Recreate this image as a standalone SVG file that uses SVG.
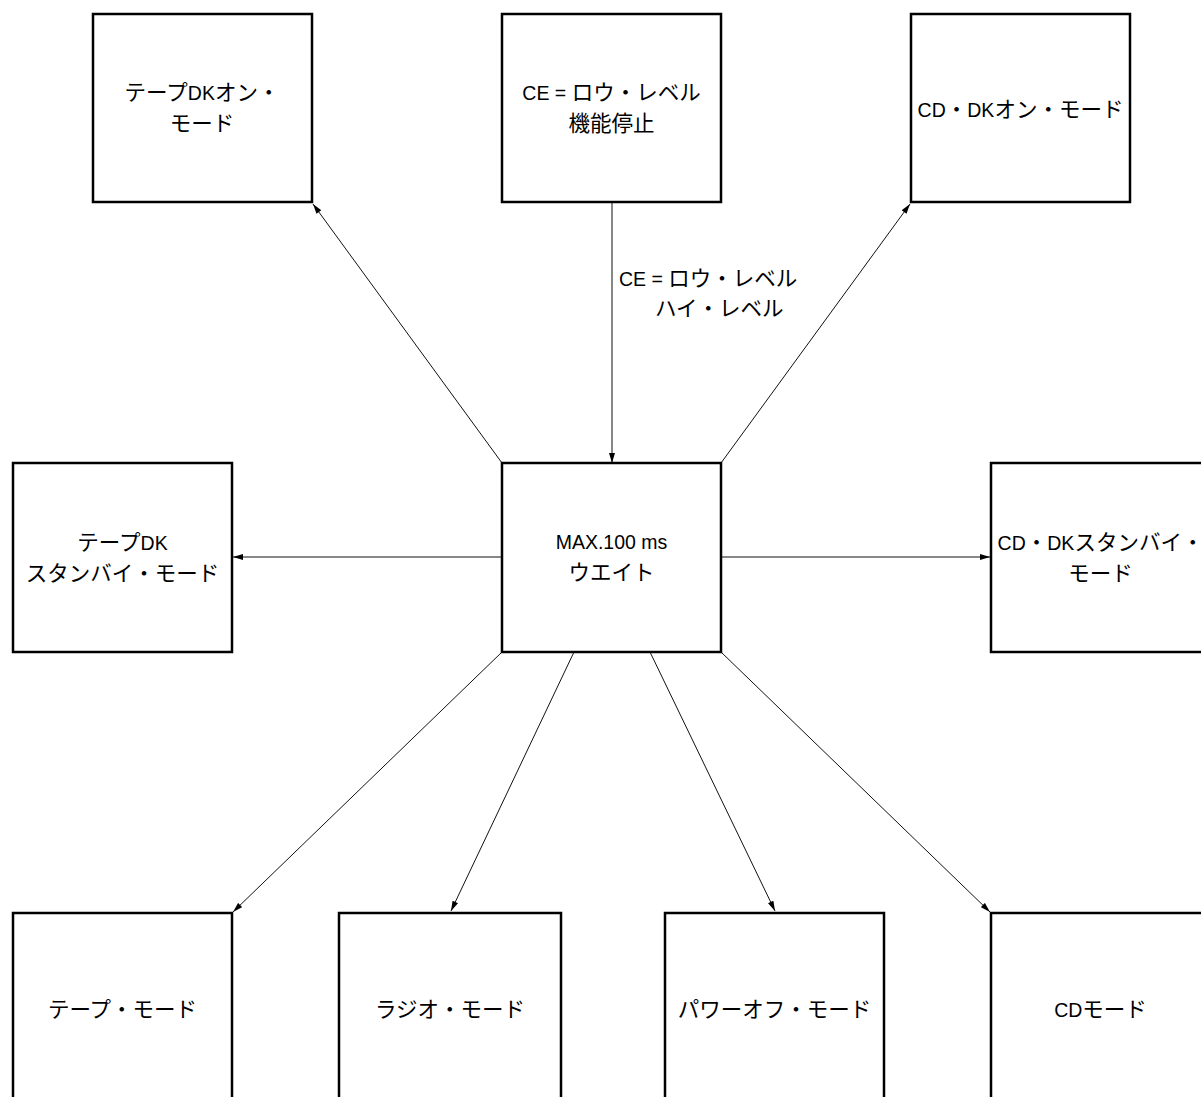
<svg xmlns="http://www.w3.org/2000/svg" width="1201" height="1097" viewBox="0 0 1201 1097">
<style>
.box{fill:#fff;stroke:#000;stroke-width:2.5}
.t{font-family:"Liberation Sans","Noto Sans CJK JP",sans-serif;font-size:21.5px;fill:#000;text-anchor:middle}
.l{font-size:19.5px}
.s{text-anchor:start}
.c{stroke:#111;stroke-width:1;fill:none;marker-end:url(#ah)}
</style>
<defs>
<marker id="ah" viewBox="0 0 10 6" refX="10" refY="3" markerWidth="11" markerHeight="6" markerUnits="userSpaceOnUse" orient="auto">
<path d="M0,0 L10,3 L0,6 Z" fill="#000"/>
</marker>
</defs>
<rect width="1201" height="1097" fill="#fff"/>
<g id="connectors">
<line class="c" x1="502" y1="463" x2="313" y2="204"/>
<line class="c" x1="612" y1="203" x2="612" y2="463"/>
<line class="c" x1="721" y1="463" x2="910" y2="204"/>
<line class="c" x1="502" y1="557" x2="233" y2="557"/>
<line class="c" x1="721" y1="557" x2="990" y2="557"/>
<line class="c" x1="502" y1="652" x2="233" y2="912"/>
<line class="c" x1="574" y1="652" x2="451" y2="911"/>
<line class="c" x1="650" y1="652" x2="775" y2="911"/>
<line class="c" x1="721" y1="652" x2="990" y2="912"/>
<text class="t s" x="619" y="286"><tspan class="l">CE = </tspan>ロウ・レベル</text>
<text class="t s" x="655" y="316">ハイ・レベル</text>
</g>
<g id="n-tape-dk-on">
<rect class="box" x="93" y="14" width="219" height="188"/>
<text class="t" x="202" y="100">テープ<tspan class="l">DK</tspan>オン・</text>
<text class="t" x="202" y="131">モード</text>
</g>
<g id="n-ce-low">
<rect class="box" x="502" y="14" width="219" height="188"/>
<text class="t" x="611.5" y="100"><tspan class="l">CE = </tspan>ロウ・レベル</text>
<text class="t" x="611.5" y="131">機能停止</text>
</g>
<g id="n-cd-dk-on">
<rect class="box" x="911" y="14" width="219" height="188"/>
<text class="t" x="1020.5" y="117"><tspan class="l">CD</tspan>・<tspan class="l">DK</tspan>オン・モード</text>
</g>
<g id="n-tape-dk-standby">
<rect class="box" x="13" y="463" width="219" height="189"/>
<text class="t" x="122.5" y="550">テープ<tspan class="l">DK</tspan></text>
<text class="t" x="122.5" y="581">スタンバイ・モード</text>
</g>
<g id="n-wait">
<rect class="box" x="502" y="463" width="219" height="189"/>
<text class="t" x="611.5" y="549"><tspan class="l">MAX.100 ms</tspan></text>
<text class="t" x="611.5" y="580">ウエイト</text>
</g>
<g id="n-cd-dk-standby">
<rect class="box" x="991" y="463" width="219" height="189"/>
<text class="t" x="1100.5" y="550"><tspan class="l">CD</tspan>・<tspan class="l">DK</tspan>スタンバイ・</text>
<text class="t" x="1100.5" y="581">モード</text>
</g>
<g id="n-tape">
<rect class="box" x="13" y="913" width="219" height="200"/>
<text class="t" x="122.5" y="1017">テープ・モード</text>
</g>
<g id="n-radio">
<rect class="box" x="339" y="913" width="222" height="200"/>
<text class="t" x="450" y="1017">ラジオ・モード</text>
</g>
<g id="n-power-off">
<rect class="box" x="665" y="913" width="219" height="200"/>
<text class="t" x="774.5" y="1017">パワーオフ・モード</text>
</g>
<g id="n-cd">
<rect class="box" x="991" y="913" width="219" height="200"/>
<text class="t" x="1100.5" y="1017"><tspan class="l">CD</tspan>モード</text>
</g>
</svg>
